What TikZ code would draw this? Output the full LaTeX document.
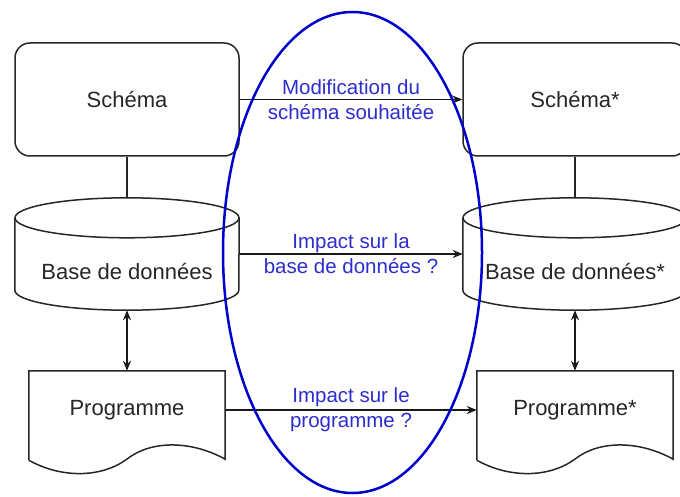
\documentclass[tikz,border=0pt]{standalone}
\usepackage{fontspec}
\setmainfont{Liberation Sans}
\usetikzlibrary{arrows.meta, calc}
\definecolor{bleu}{RGB}{0,0,204}
\definecolor{bleutexte}{RGB}{45,45,205}
\tikzstyle{trait} = [line width=1.5pt, black!85]
\tikzstyle{fleche} = [line width=1.5pt, black!90, -{Stealth[length=10pt,width=8pt]}]
\tikzstyle{doublefleche} = [line width=1.5pt, black!90, {Stealth[length=10pt,width=8pt]}-{Stealth[length=10pt,width=8pt]}]
\tikzstyle{boite} = [draw, line width=1.5pt, black!85, rounded corners=15pt, minimum width=224pt, minimum height=113pt, text=black!85, font=\fontsize{22}{26}\selectfont]
\tikzstyle{forme} = [minimum width=224pt, minimum height=112pt, inner sep=0pt]
\tikzstyle{feuille} = [minimum width=196pt, minimum height=78pt, text=black!85, font=\fontsize{22}{26}\selectfont]
\tikzstyle{texte} = [text=black!85, font=\fontsize{22}{26}\selectfont]
\tikzstyle{etiq} = [align=center, text=bleutexte, font=\fontsize{20.5}{25}\selectfont]

% contour du cylindre autour d'un noeud
\newcommand{\cylindre}[1]{%
  \draw[trait] ($(#1.north west)+(0,20)$) -- ($(#1.south west)+(0,-20)$)
    arc[start angle=180, end angle=360, x radius=112pt, y radius=20pt]
    -- ($(#1.north east)+(0,20)$);
  \draw[trait] ($(#1.north)+(0,20)$) ellipse[x radius=112pt, y radius=20pt];
}
% contour du document (bord ondule)
\newcommand{\feuillet}[1]{%
  \draw[trait] ($(#1.south west)+(0,11)$) -- (#1.north west) -- (#1.north east)
    -- ($(#1.south east)+(0,10)$)
    .. controls ($(#1.south west)+(162,-9)$) and ($(#1.south west)+(122,-9)$) .. ($(#1.south west)+(98,10)$)
    .. controls ($(#1.south west)+(72,29)$) and ($(#1.south west)+(32,29)$) .. ($(#1.south west)+(0,11)$);
}

\begin{document}
\begin{tikzpicture}[x=1pt, y=-1pt]
        \useasboundingbox (0,0) rectangle (680,497);

        %colonne de gauche
        \node at (127,99.5) [boite] (schema) {Schéma};
        \node at (127,254) [forme] (bdd) {};
        \cylindre{bdd}
        \node at (127,272) [texte] (bddtexte) {Base de données};
        \node at (127,410) [feuille] (prog) {Programme};
        \feuillet{prog}

        %colonne de droite
        \node at (575,99.5) [boite] (schemab) {Schéma*};
        \node at (575,254) [forme] (bddb) {};
        \cylindre{bddb}
        \node at (575,272) [texte] (bddbtexte) {Base de données*};
        \node at (575,410) [feuille] (progb) {Programme*};
        \feuillet{progb}

        %liens verticaux
        \draw [trait] (schema.south) -- (bdd.north);
        \draw [doublefleche] (bdd.south) -- (prog.north);
        \draw [trait] (schemab.south) -- (bddb.north);
        \draw [doublefleche] (bddb.south) -- (progb.north);

        %impacts
        \draw [fleche] (schema.east) -- (schemab.west)
            node [etiq, midway] {Modification du\\schéma souhaitée};
        \draw [fleche] (bdd.east) -- (bddb.west)
            node [etiq, midway] {Impact sur la\\base de données ?};
        \draw [fleche] (prog.east) -- (progb.west)
            node [etiq, midway] {Impact sur le\\programme ?};

        %ovale
        \draw [bleu, line width=2.5pt] (352.5,252.5) ellipse[x radius=129.5pt, y radius=240.5pt];

    \end{tikzpicture}
\end{document}
